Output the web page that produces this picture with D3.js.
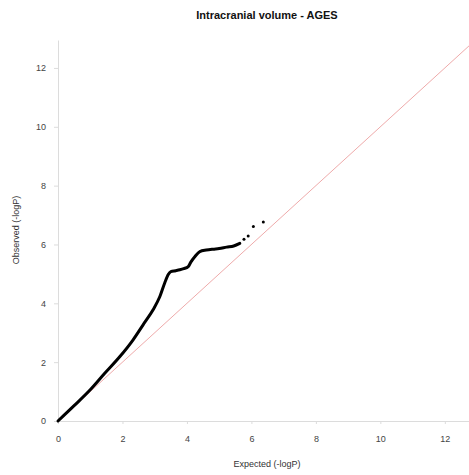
<!DOCTYPE html>
<html>
<head>
<meta charset="utf-8">
<script src="https://cdn.jsdelivr.net/npm/d3@7"></script>
<style>
body { margin: 0; background: #fff; }
text { font-family: "Liberation Sans", Arial, sans-serif; }
</style>
</head>
<body>
<div id="chart"></div>
<script>
// expected vs observed -logP
var curveX = [0, 0.5, 1.0, 1.45, 1.92, 2.33, 2.64, 2.95, 3.16, 3.31, 3.42, 3.5, 3.65, 3.78, 3.9, 4.04, 4.12, 4.25, 4.4, 4.6, 4.81, 5.0, 5.23, 5.45, 5.64];
var curveY = [0, 0.52, 1.06, 1.62, 2.19, 2.76, 3.27, 3.78, 4.23, 4.69, 4.98, 5.08, 5.11, 5.14, 5.18, 5.25, 5.4, 5.59, 5.76, 5.81, 5.84, 5.86, 5.91, 5.95, 6.04];
var tailX = [5.77, 5.9, 6.06, 6.37];
var tailY = [6.18, 6.29, 6.61, 6.76];
var tickVals = [0, 2, 4, 6, 8, 10, 12];

var width = 469, height = 475;
var margin = {top: 40, right: 0, bottom: 54, left: 58};

var svg = d3.select("#chart").append("svg")
    .attr("width", width)
    .attr("height", height);

var x = d3.scaleLinear().domain([0, 12.75]).range([margin.left, width - margin.right]);
var y = d3.scaleLinear().domain([0, 12.95]).range([421, margin.top]);

// axes
var xAxis = svg.append("g")
    .attr("transform", "translate(0," + y(0) + ")")
    .call(d3.axisBottom(x).tickValues(tickVals).tickSize(3).tickPadding(12).tickSizeOuter(0));
var yAxis = svg.append("g")
    .attr("transform", "translate(" + x(0) + ",0)")
    .call(d3.axisLeft(y).tickValues(tickVals).tickSize(4).tickPadding(8).tickSizeOuter(0));

[xAxis, yAxis].forEach(function(a){
    a.select(".domain").attr("stroke", "#dcdcdc");
    a.selectAll(".tick line").attr("stroke", "#dcdcdc");
    a.selectAll(".tick text").attr("fill", "#444").style("font-size", "9px");
});

// y = x reference
svg.append("line")
    .attr("x1", x(0)).attr("y1", y(0))
    .attr("x2", x(12.75)).attr("y2", y(12.75))
    .attr("stroke", "#eeaaaa")
    .attr("stroke-width", 1);

var pts = curveX.map(function(d, i){ return [d, curveY[i]]; });
var line = d3.line()
    .x(function(d){ return x(d[0]); })
    .y(function(d){ return y(d[1]); })
    .curve(d3.curveMonotoneX);

svg.append("path")
    .datum(pts)
    .attr("d", line)
    .attr("fill", "none")
    .attr("stroke", "#000")
    .attr("stroke-width", 3)
    .attr("stroke-linecap", "round");

svg.selectAll(".tail")
    .data(tailX)
    .enter().append("circle")
    .attr("class", "tail")
    .attr("cx", function(d){ return x(d); })
    .attr("cy", function(d, i){ return y(tailY[i]); })
    .attr("r", 1.5)
    .attr("fill", "#000");

// titles
svg.append("text")
    .attr("x", 267).attr("y", 19)
    .attr("text-anchor", "middle")
    .style("font-size", "11px")
    .style("font-weight", "bold")
    .attr("fill", "#111")
    .text("Intracranial volume - AGES");

svg.append("text")
    .attr("x", 267).attr("y", 467)
    .attr("text-anchor", "middle")
    .style("font-size", "9px")
    .attr("fill", "#333")
    .text("Expected (-logP)");

svg.append("text")
    .attr("transform", "translate(19,230) rotate(-90)")
    .attr("text-anchor", "middle")
    .style("font-size", "9px")
    .attr("fill", "#333")
    .text("Observed (-logP)");
</script>
</body>
</html>
